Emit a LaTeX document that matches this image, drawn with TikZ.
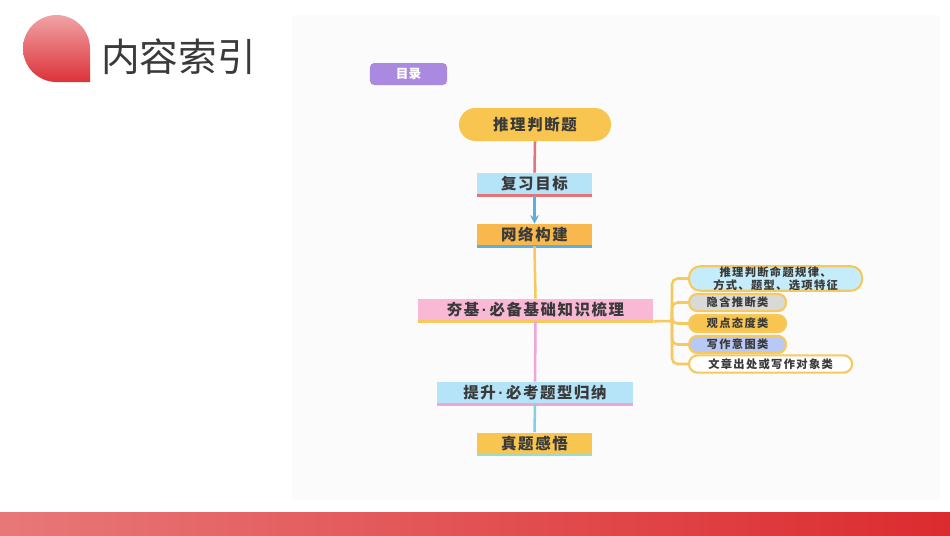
\documentclass[tikz,border=0pt]{standalone}
\usepackage{fontspec}
\setmainfont{Noto Sans CJK SC}
\newfontfamily\boxfont{Noto Sans CJK SC}[LetterSpace=10]
\newfontfamily\leaffont{Noto Sans CJK SC}[LetterSpace=12]
\newfontfamily\dotfont{Liberation Sans}
\newcommand{\mdot}{{\dotfont\bfseries\,·\,}}
\usetikzlibrary{arrows.meta}
\definecolor{txt}{HTML}{3A3A3A}
\definecolor{panel}{HTML}{FBFBFB}
\definecolor{purp}{HTML}{A98AE0}
\definecolor{yel}{HTML}{F8C650}
\definecolor{orng}{HTML}{F8B84E}
\definecolor{pnk}{HTML}{F9B8D4}
\definecolor{lblue}{HTML}{B5E3F8}
\definecolor{cyanlf}{HTML}{C5ECFA}
\definecolor{graylf}{HTML}{D9D9D9}
\definecolor{perilf}{HTML}{B9C9F7}
\definecolor{lnred}{HTML}{E4737A}
\definecolor{lnblue}{HTML}{5AAEE0}
\definecolor{lnyel}{HTML}{F6C95E}
\definecolor{lnpink}{HTML}{EEA6D6}
\definecolor{lncyan}{HTML}{82D0E4}
\definecolor{lnteal}{HTML}{9DDCC4}
\definecolor{droptop}{HTML}{F0A3A6}
\definecolor{dropbot}{HTML}{DC3238}
\definecolor{bandl}{HTML}{E87878}
\definecolor{bandr}{HTML}{DC2B2F}
\begin{document}
\begin{tikzpicture}[x=0.025cm,y=-0.025cm,
  bx/.style={minimum width=2.875cm,minimum height=0.55cm,inner sep=0pt,text=txt,font=\boxfont\bfseries\fontsize{11}{13}\selectfont},
  lf/.style={draw=lnyel,line width=1.5pt,rounded corners=0.21cm,minimum height=0.43cm,inner sep=0pt,anchor=west,align=center,text=txt,font=\leaffont\bfseries\fontsize{8}{9.5}\selectfont},
  ln/.style={line width=1.8pt}]
  \useasboundingbox (0,0) rectangle (950,535);
  \fill[white] (0,0) rectangle (950,535);
  \fill[panel] (292,15) rectangle (940,500);
  % header and footer band
  \shade[top color=droptop,bottom color=dropbot] (90,82) [rounded corners=0.84cm] -- (23,82) -- (23,15) -- (90,15) [sharp corners] -- cycle;
  \node[anchor=west,inner sep=0pt,text=txt,font=\fontsize{27.5}{30}\selectfont] (title) at (101,57) {内容索引};
  \shade[left color=bandl,right color=bandr] (0,512) rectangle (950,535);
  % main column
  \node[fill=purp,rounded corners=3pt,minimum width=1.925cm,minimum height=0.55cm,inner sep=0pt,text=white,font=\bfseries\fontsize{9}{11}\selectfont] (mulu) at (408.5,74) {目录};
  \node[bx,fill=yel,rounded corners=0.41cm,minimum width=3.8cm,minimum height=0.825cm] (tl) at (535,124.5) {推理判断题};
  \node[bx,fill=lblue] (fx) at (534.5,184) {复习目标};
  \node[bx,fill=orng] (wl) at (534.5,235) {网络构建};
  \node[bx,fill=pnk,minimum width=5.875cm] (hj) at (535.5,310) {夯基\mdot 必备基础知识梳理};
  \node[bx,fill=lblue,minimum width=4.9cm] (ts) at (535,393) {提升\mdot 必考题型归纳};
  \node[bx,fill=yel] (zt) at (534.5,443.5) {真题感悟};
  \draw[ln,lnred] (fx.south west) -- (fx.south east);
  \draw[ln,lnblue] (wl.south west) -- (wl.south east);
  \draw[ln,lnyel] (hj.south west) -- (hj.south east);
  \draw[ln,lnpink] (ts.south west) -- (ts.south east);
  \draw[ln,lnteal] (zt.south west) -- (zt.south east);
  \draw[ln,lnred] (tl.south) -- (fx.north);
  \draw[ln,lnblue,-{Stealth[length=6pt,width=6pt]}] (fx.south) -- (wl.north);
  \draw[ln,lnyel] (wl.south) -- (hj.north);
  \draw[ln,lnpink] (hj.south) -- (ts.north);
  \draw[ln,lncyan] (ts.south) -- (zt.north);
  % branch leaves
  \node[lf,fill=cyanlf,rounded corners=0.28cm,minimum width=4.325cm,minimum height=0.575cm] (l1) at (688,278.5) {推理判断命题规律、\\方式、题型、选项特征};
  \node[lf,fill=graylf,minimum width=2.425cm] (l2) at (688,302.5) {隐含推断类};
  \node[lf,fill=yel,minimum width=2.425cm] (l3) at (688,323.5) {观点态度类};
  \node[lf,fill=perilf,minimum width=2.425cm] (l4) at (688,344.5) {写作意图类};
  \node[lf,fill=white,minimum width=4.075cm] (l5) at (688,364) {文章出处或写作对象类};
  \coordinate (br) at (672,321);
  \draw[ln,lnyel] (hj.south east) -- (br);
  \foreach \l in {l1,l2,l3,l4,l5}
    \draw[ln,lnyel,rounded corners=4pt] (br) |- (\l.west);
\end{tikzpicture}
\end{document}
